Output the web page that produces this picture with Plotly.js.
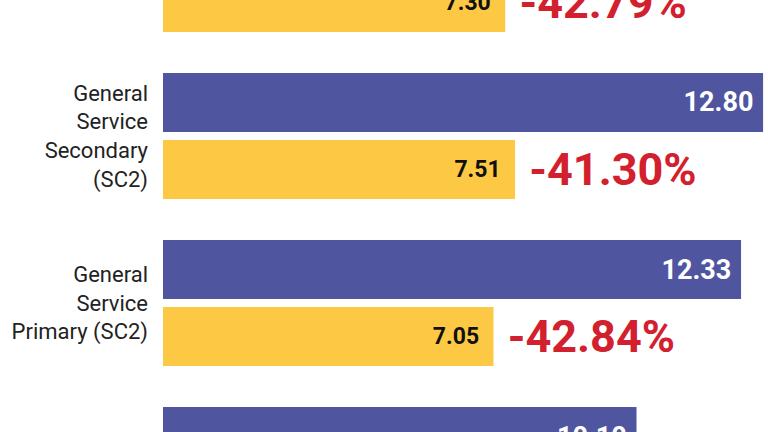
<!DOCTYPE html>
<html>
<head>
<meta charset="utf-8">
<script src="https://cdn.plot.ly/plotly-3.0.1.min.js"></script>
<style>
  html, body { margin: 0; padding: 0; background: #ffffff; }
  #chart { width: 768px; height: 432px; }
</style>
</head>
<body>
<div id="chart"></div>
<script>
// ---- data ----
var categories = ['SC1', 'SC2 Secondary', 'SC2 Primary', 'SC3'];
var categoryLabels = [
  'Residential<br>Non-Heating<br>Service (SC1)',
  'General<br>Service<br>Secondary<br>(SC2)',
  'General<br>Service<br>Primary (SC2)',
  'Large General<br>Service (SC3)'
];
var currentRates = [12.76, 12.80, 12.33, 10.10];
var proposedRates = [7.30, 7.51, 7.05, null];
var pctChange = ['-42.79%', '-41.30%', '-42.84%', null];

// ---- styles ----
var blue = '#4f559f';
var yellow = '#fdc945';
var red = '#d3202e';
var labelFont = 'Roboto, Arial, sans-serif';
var numFont = 'Roboto, Arial, sans-serif';

var traceCurrent = {
  type: 'bar', orientation: 'h', offsetgroup: 'current',
  y: categories, x: currentRates,
  marker: { color: blue, line: { width: 0 } },
  text: currentRates.map(function (v) { return v == null ? '' : v.toFixed(2) + '\u00a0'; }),
  textposition: 'inside', insidetextanchor: 'end', constraintext: 'none',
  textfont: { family: numFont, size: 27, color: '#ffffff', weight: 700 },
  hoverinfo: 'skip', cliponaxis: true
};
var traceProposed = {
  type: 'bar', orientation: 'h', offsetgroup: 'proposed',
  y: categories, x: proposedRates,
  marker: { color: yellow, line: { width: 0 } },
  text: proposedRates.map(function (v) { return v == null ? '' : v.toFixed(2) + '\u00a0\u00a0'; }),
  textposition: 'inside', insidetextanchor: 'end', constraintext: 'none',
  textfont: { family: numFont, size: 23, color: '#111111', weight: 700 },
  hoverinfo: 'skip', cliponaxis: true
};
// percent-change labels, placed just past the end of each proposed bar
var traceChange = {
  type: 'bar', orientation: 'h', offsetgroup: 'proposed',
  y: categories, x: proposedRates,
  marker: { color: 'rgba(0,0,0,0)', line: { width: 0 } },
  text: pctChange.map(function (t) { return t == null ? '' : '\u00a0' + t; }),
  textposition: 'outside', constraintext: 'none',
  textfont: { family: numFont, size: 45, color: red, weight: 700 },
  hoverinfo: 'skip', cliponaxis: true
};

var layout = {
  width: 768, height: 432,
  margin: { l: 163, r: 0, t: 0, b: 0, pad: 0 },
  paper_bgcolor: '#ffffff', plot_bgcolor: '#ffffff',
  showlegend: false,
  barmode: 'group', bargap: 0.198, bargroupgap: 0.119,
  xaxis: { range: [0, 12.905], visible: false, showgrid: false, zeroline: false, fixedrange: true },
  yaxis: {
    type: 'category', categoryorder: 'array', categoryarray: categories,
    tickmode: 'array', tickvals: categories, ticktext: categoryLabels,
    range: [2.772, 0.186], automargin: false,
    showgrid: false, zeroline: false, showline: false, ticks: '',
    ticklabelstandoff: 14,
    tickfont: { family: labelFont, size: 22, color: '#222222' }
  }
};

Plotly.newPlot('chart', [traceCurrent, traceProposed, traceChange], layout, { staticPlot: true, displayModeBar: false });
</script>
</body>
</html>
